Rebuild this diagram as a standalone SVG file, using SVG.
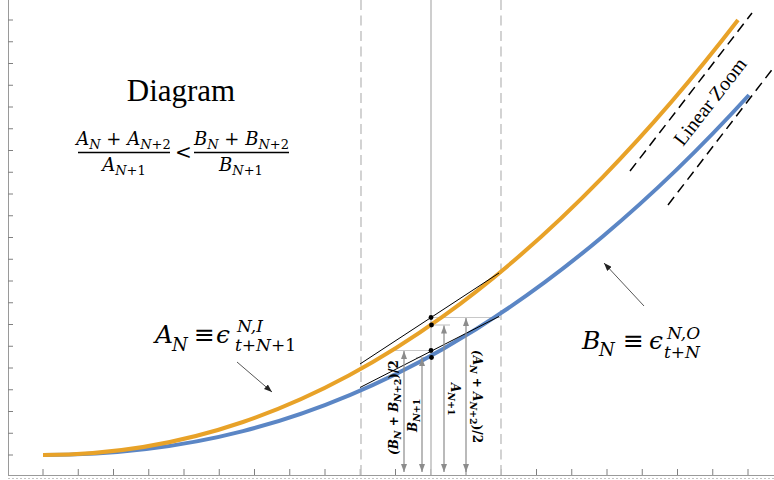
<svg xmlns="http://www.w3.org/2000/svg" width="774" height="480" viewBox="0 0 774 480">
<defs>
<style>
.axis{stroke:#9a9a9a;stroke-width:1;fill:none}
.dot-axis{stroke:#c4c4c4;stroke-width:1;stroke-dasharray:2 2;fill:none}
.tick{stroke:#808080;stroke-width:1;fill:none}
.vdash{stroke:#c8c8c8;stroke-width:1.6;stroke-dasharray:10 5.5;fill:none}
.vsolid{stroke:#c2c2c2;stroke-width:1.6;fill:none}
.curveA{stroke:#E8A228;stroke-width:4;fill:none;stroke-linejoin:round}
.curveB{stroke:#5B86C5;stroke-width:4;fill:none;stroke-linejoin:round}
.chord{stroke:#000;stroke-width:1;fill:none}
.guide{stroke:#c8c8c8;stroke-width:1.2;fill:none}
.garrow{stroke:#8c8c8c;stroke-width:1.2;fill:none;marker-start:url(#ga);marker-end:url(#ga)}
.lead{stroke:#444;stroke-width:0.9;fill:none;marker-end:url(#la)}
.zoom{stroke:#000;stroke-width:1.5;stroke-dasharray:10 6;fill:none}
.serif{font-family:"Liberation Serif","Times New Roman",serif;fill:#000}
.math{font-family:"DejaVu Serif","Liberation Serif",serif;font-style:italic;fill:#000}
.up{font-style:normal}
.lbl{font-family:"DejaVu Serif","Liberation Serif",serif;font-style:italic;font-weight:bold;font-size:12px;fill:#000}
</style>
<marker id="ga" viewBox="0 0 8 6" refX="8" refY="3" markerWidth="8" markerHeight="6" markerUnits="userSpaceOnUse" orient="auto-start-reverse"><path d="M0,0 L8,3 L0,6 z" fill="#8c8c8c"/></marker>
<marker id="la" viewBox="0 0 8 6" refX="8" refY="3" markerWidth="8" markerHeight="6" markerUnits="userSpaceOnUse" orient="auto"><path d="M0,0 L8,3 L0,6 z" fill="#222"/></marker>
</defs>
<rect width="774" height="480" fill="#fff"/>

<g id="axes">
<line class="axis" x1="8.5" y1="0" x2="8.5" y2="476"/>
<line class="axis" x1="8" y1="475.5" x2="774" y2="475.5"/>
<line class="dot-axis" x1="8" y1="478.5" x2="774" y2="478.5"/>
<path class="tick" d="M8,20h5M8,41.75h5M8,63.5h5M8,85.25h5M8,107h5M8,128.75h5M8,150.5h5M8,172.25h5M8,194h5M8,215.75h5M8,237.5h5M8,259.25h5M8,281h5M8,302.75h5M8,324.5h5M8,346.25h5M8,368h5M8,389.75h5M8,411.5h5M8,433.25h5M8,455h5"/>
<path class="tick" d="M43,475v-6M78.25,475v-6M113.5,475v-6M148.75,475v-6M184,475v-6M219.25,475v-6M254.5,475v-6M289.75,475v-6M325,475v-6M360.25,475v-6M395.5,475v-6M430.75,475v-6M466,475v-6M501.25,475v-6M536.5,475v-6M571.75,475v-6M607,475v-6M642.25,475v-6M677.5,475v-6M712.75,475v-6M748,475v-6"/>
</g>

<g id="guides">
<line class="vdash" x1="361" y1="0" x2="361" y2="475"/>
<line class="vdash" x1="501" y1="0" x2="501" y2="475"/>
<line class="vsolid" x1="431" y1="0" x2="431" y2="475"/>
<line class="guide" x1="431" y1="317.5" x2="500" y2="317.5"/>
<line class="guide" x1="431" y1="325" x2="450" y2="325"/>
<line class="guide" x1="393" y1="350.5" x2="431" y2="350.5"/>
<line class="guide" x1="416" y1="357.5" x2="431" y2="357.5"/>
</g>

<g id="curve-B">
<path class="curveB" d="M43,455Q150,455 243,431.1Q344.7,405 443,348.9Q523.5,303 603,236.2Q676.6,174.4 749,95"/>
</g>
<g id="curve-A">
<path class="curveA" d="M43,455Q146.4,455 243,422Q343.8,387.6 443,316.4Q523.2,258.9 603,176.8Q670.8,107.1 738,20"/>
</g>

<g id="chords">
<line class="chord" x1="360" y1="364" x2="499" y2="273"/>
<line class="chord" x1="360" y1="387.5" x2="499" y2="316.5"/>
<circle cx="431" cy="317.5" r="2.4" fill="#000"/>
<circle cx="431.5" cy="325" r="2.4" fill="#000"/>
<circle cx="431" cy="350.5" r="2.4" fill="#000"/>
<circle cx="431.5" cy="357.5" r="2.4" fill="#000"/>
</g>

<g id="connectors">
<line class="garrow" x1="404" y1="351" x2="404" y2="472"/>
<line class="garrow" x1="422" y1="358" x2="422" y2="472"/>
<line class="garrow" x1="444" y1="325.5" x2="444" y2="472"/>
<line class="garrow" x1="466" y1="318" x2="466" y2="472"/>
<line class="lead" x1="237" y1="362" x2="272" y2="392"/>
<line class="lead" x1="644" y1="306" x2="604" y2="263"/>
</g>

<g id="linear-zoom">
<line class="zoom" x1="630" y1="171" x2="752" y2="13"/>
<line class="zoom" x1="668" y1="205" x2="774" y2="67"/>
<text class="serif" font-size="20" transform="translate(683,147) rotate(-52)">Linear Zoom</text>
</g>

<g id="title">
<text class="serif" font-size="31" x="181" y="101" text-anchor="middle">Diagram</text>
</g>

<g id="inequality">
<text class="math" font-size="18" x="123.5" y="145" text-anchor="middle">A<tspan font-size="13" dy="4">N</tspan><tspan class="up" dy="-4"> + </tspan>A<tspan font-size="13" dy="4">N<tspan class="up">+2</tspan></tspan></text>
<line x1="78" y1="152.5" x2="170" y2="152.5" stroke="#000" stroke-width="1.3"/>
<text class="math" font-size="18" x="124" y="171" text-anchor="middle">A<tspan font-size="13" dy="4">N<tspan class="up">+1</tspan></tspan></text>
<text class="math up" font-size="20" x="183.5" y="158.5" text-anchor="middle">&lt;</text>
<text class="math" font-size="18" x="241.5" y="145" text-anchor="middle">B<tspan font-size="13" dy="4">N</tspan><tspan class="up" dy="-4"> + </tspan>B<tspan font-size="13" dy="4">N<tspan class="up">+2</tspan></tspan></text>
<line x1="194" y1="152.5" x2="289" y2="152.5" stroke="#000" stroke-width="1.3"/>
<text class="math" font-size="18" x="241" y="171" text-anchor="middle">B<tspan font-size="13" dy="4">N<tspan class="up">+1</tspan></tspan></text>
</g>

<g id="label-A">
<text class="math" font-size="25" x="155" y="343">A<tspan font-size="18" x="172" y="351">N</tspan><tspan class="up" x="194" y="343">≡</tspan><tspan x="216" y="343">ϵ</tspan><tspan font-size="17" x="237" y="331.5">N,I</tspan><tspan font-size="17" x="235" y="351">t<tspan class="up">+</tspan>N<tspan class="up">+1</tspan></tspan></text>
</g>

<g id="label-B">
<text class="math" font-size="25" x="582" y="349">B<tspan font-size="18" x="599" y="355.5">N</tspan><tspan class="up" x="623" y="349">≡</tspan><tspan x="649" y="349">ϵ</tspan><tspan font-size="17" x="667" y="338.5">N,O</tspan><tspan font-size="17" x="664" y="357.5">t<tspan class="up">+</tspan>N</tspan></text>
</g>

<g id="measure-labels">
<text class="lbl" transform="translate(398,455) rotate(-90)">(B<tspan font-size="9.5" dy="3">N</tspan><tspan class="up" dy="-3"> + </tspan>B<tspan font-size="9.5" dy="3">N<tspan class="up">+2</tspan></tspan><tspan class="up" dy="-3">)/2</tspan></text>
<text class="lbl" transform="translate(417,432) rotate(-90)">B<tspan font-size="9.5" dy="3">N<tspan class="up">+1</tspan></tspan></text>
<text class="lbl" transform="translate(451,383) rotate(90)">A<tspan font-size="9.5" dy="3">N<tspan class="up">+1</tspan></tspan></text>
<text class="lbl" transform="translate(473,350) rotate(90)">(A<tspan font-size="9.5" dy="3">N</tspan><tspan class="up" dy="-3"> + </tspan>A<tspan font-size="9.5" dy="3">N<tspan class="up">+2</tspan></tspan><tspan class="up" dy="-3">)/2</tspan></text>
</g>
</svg>
